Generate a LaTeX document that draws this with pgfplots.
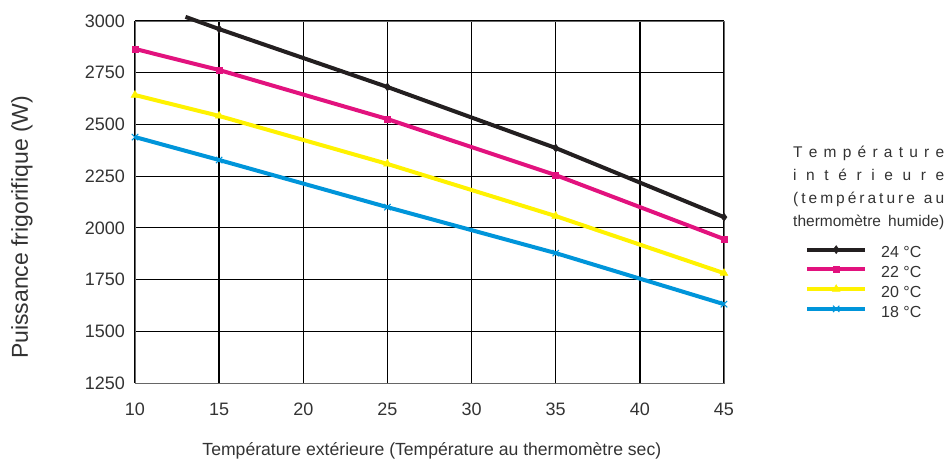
\documentclass[border=0pt]{standalone}
\usepackage{pgfplots}
\pgfplotsset{compat=1.18}
\usepackage{fontspec}
\setmainfont{Liberation Sans}
\definecolor{txt}{HTML}{333333}
\definecolor{c24}{HTML}{231F20}
\definecolor{c22}{HTML}{E2127E}
\definecolor{c20}{HTML}{FFF200}
\definecolor{c18}{HTML}{0095DA}
\begin{document}
\begin{tikzpicture}
\path[use as bounding box] (-135pt,-78pt) rectangle (816pt,383pt);
\begin{axis}[
    at={(0pt,0pt)}, anchor=south west,
    scale only axis, width=589pt, height=362pt,
    xmin=10, xmax=45, ymin=1250, ymax=3000,
    xtick={10,15,...,45}, ytick={1250,1500,...,3000},
    grid=major,
    major x grid style={black, line width=1.4pt},
    major y grid style={black, line width=1pt},
    axis line style={black!60, line width=0.8pt},
    major tick length=0pt,
    tick label style={font=\fontsize{18}{21}\selectfont, text=txt},
    /pgf/number format/assume math mode=true,
    /pgf/number format/1000 sep={},
    xticklabel style={anchor=north, inner sep=0pt, yshift=-20pt},
    yticklabel style={anchor=east, inner sep=0pt, xshift=-10pt},
    xlabel={Température extérieure (Température au thermomètre sec)},
    xlabel style={at={(rel axis cs:0.504,-0.188)}, anchor=center, font=\fontsize{17.6}{20}\selectfont, text=txt},
    ylabel={Puissance frigorifique (W)},
    ylabel style={at={(rel axis cs:-0.192,0.43)}, anchor=center, font=\fontsize{23}{26}\selectfont, text=txt},
    clip=false,
    legend style={at={(rel axis cs:1.1375,0.381)}, anchor=north west, draw=none, fill=none,
        inner sep=0pt, row sep=0pt, legend cell align=left,
        nodes={inner sep=0pt, text height=12.7pt, text depth=7pt, font=\fontsize{16}{19}\selectfont, text=txt}},
    legend image code/.code={
        \draw[#1, mark=none] (0pt,5.5pt) -- (58pt,5.5pt);
        \draw[#1, only marks] plot coordinates {(29pt,5.5pt)};
        \path (0pt,0pt) (72pt,0pt);
    },
]
% 24 °C, the first part has no mark
\addplot[c24, line width=4pt, forget plot] coordinates {(13,3020) (15,2961)};
\addplot[c24, line width=4pt, mark=diamond*, mark size=4pt, mark options={solid, line width=0.5pt}]
    coordinates {(15,2961) (25,2681) (35,2386) (45,2052)};
\addlegendentry{24 °C}
\addplot[c22, line width=4pt, mark=square*, mark size=3pt, mark options={solid, line width=0.5pt}]
    coordinates {(10,2865) (15,2763) (25,2526) (35,2255) (45,1946)};
\addlegendentry{22 °C}
\addplot[c20, line width=4pt, mark=triangle*, mark size=4.5pt, mark options={solid, line width=0.5pt}]
    coordinates {(10,2642) (15,2541) (25,2309) (35,2057) (45,1781)};
\addlegendentry{20 °C}
\addplot[c18, line width=4pt, mark=x, mark size=4.5pt, mark options={solid, line width=1pt}]
    coordinates {(10,2439) (15,2328) (25,2100) (35,1878) (45,1631)};
\addlegendentry{18 °C}
\end{axis}
\begin{scope}[every node/.style={anchor=base west, inner sep=0pt, text=txt, font=\fontsize{15.5}{18}\selectfont}]
\node at (658pt,225pt) {\hbox to 151pt{T\hfil e\hfil m\hfil p\hfil é\hfil r\hfil a\hfil t\hfil u\hfil r\hfil e}};
\node at (658pt,202pt) {\hbox to 151pt{i\hfil n\hfil t\hfil é\hfil r\hfil i\hfil e\hfil u\hfil r\hfil e}};
\node at (658pt,179pt) {\hbox to 151pt{(\hfil t\hfil e\hfil m\hfil p\hfil é\hfil r\hfil a\hfil t\hfil u\hfil r\hfil e\hfil\hfil\hfil a\hfil u}};
\node at (658pt,156pt) {\hbox to 151pt{thermomètre\hfill humide)}};
\end{scope}
\end{tikzpicture}
\end{document}
